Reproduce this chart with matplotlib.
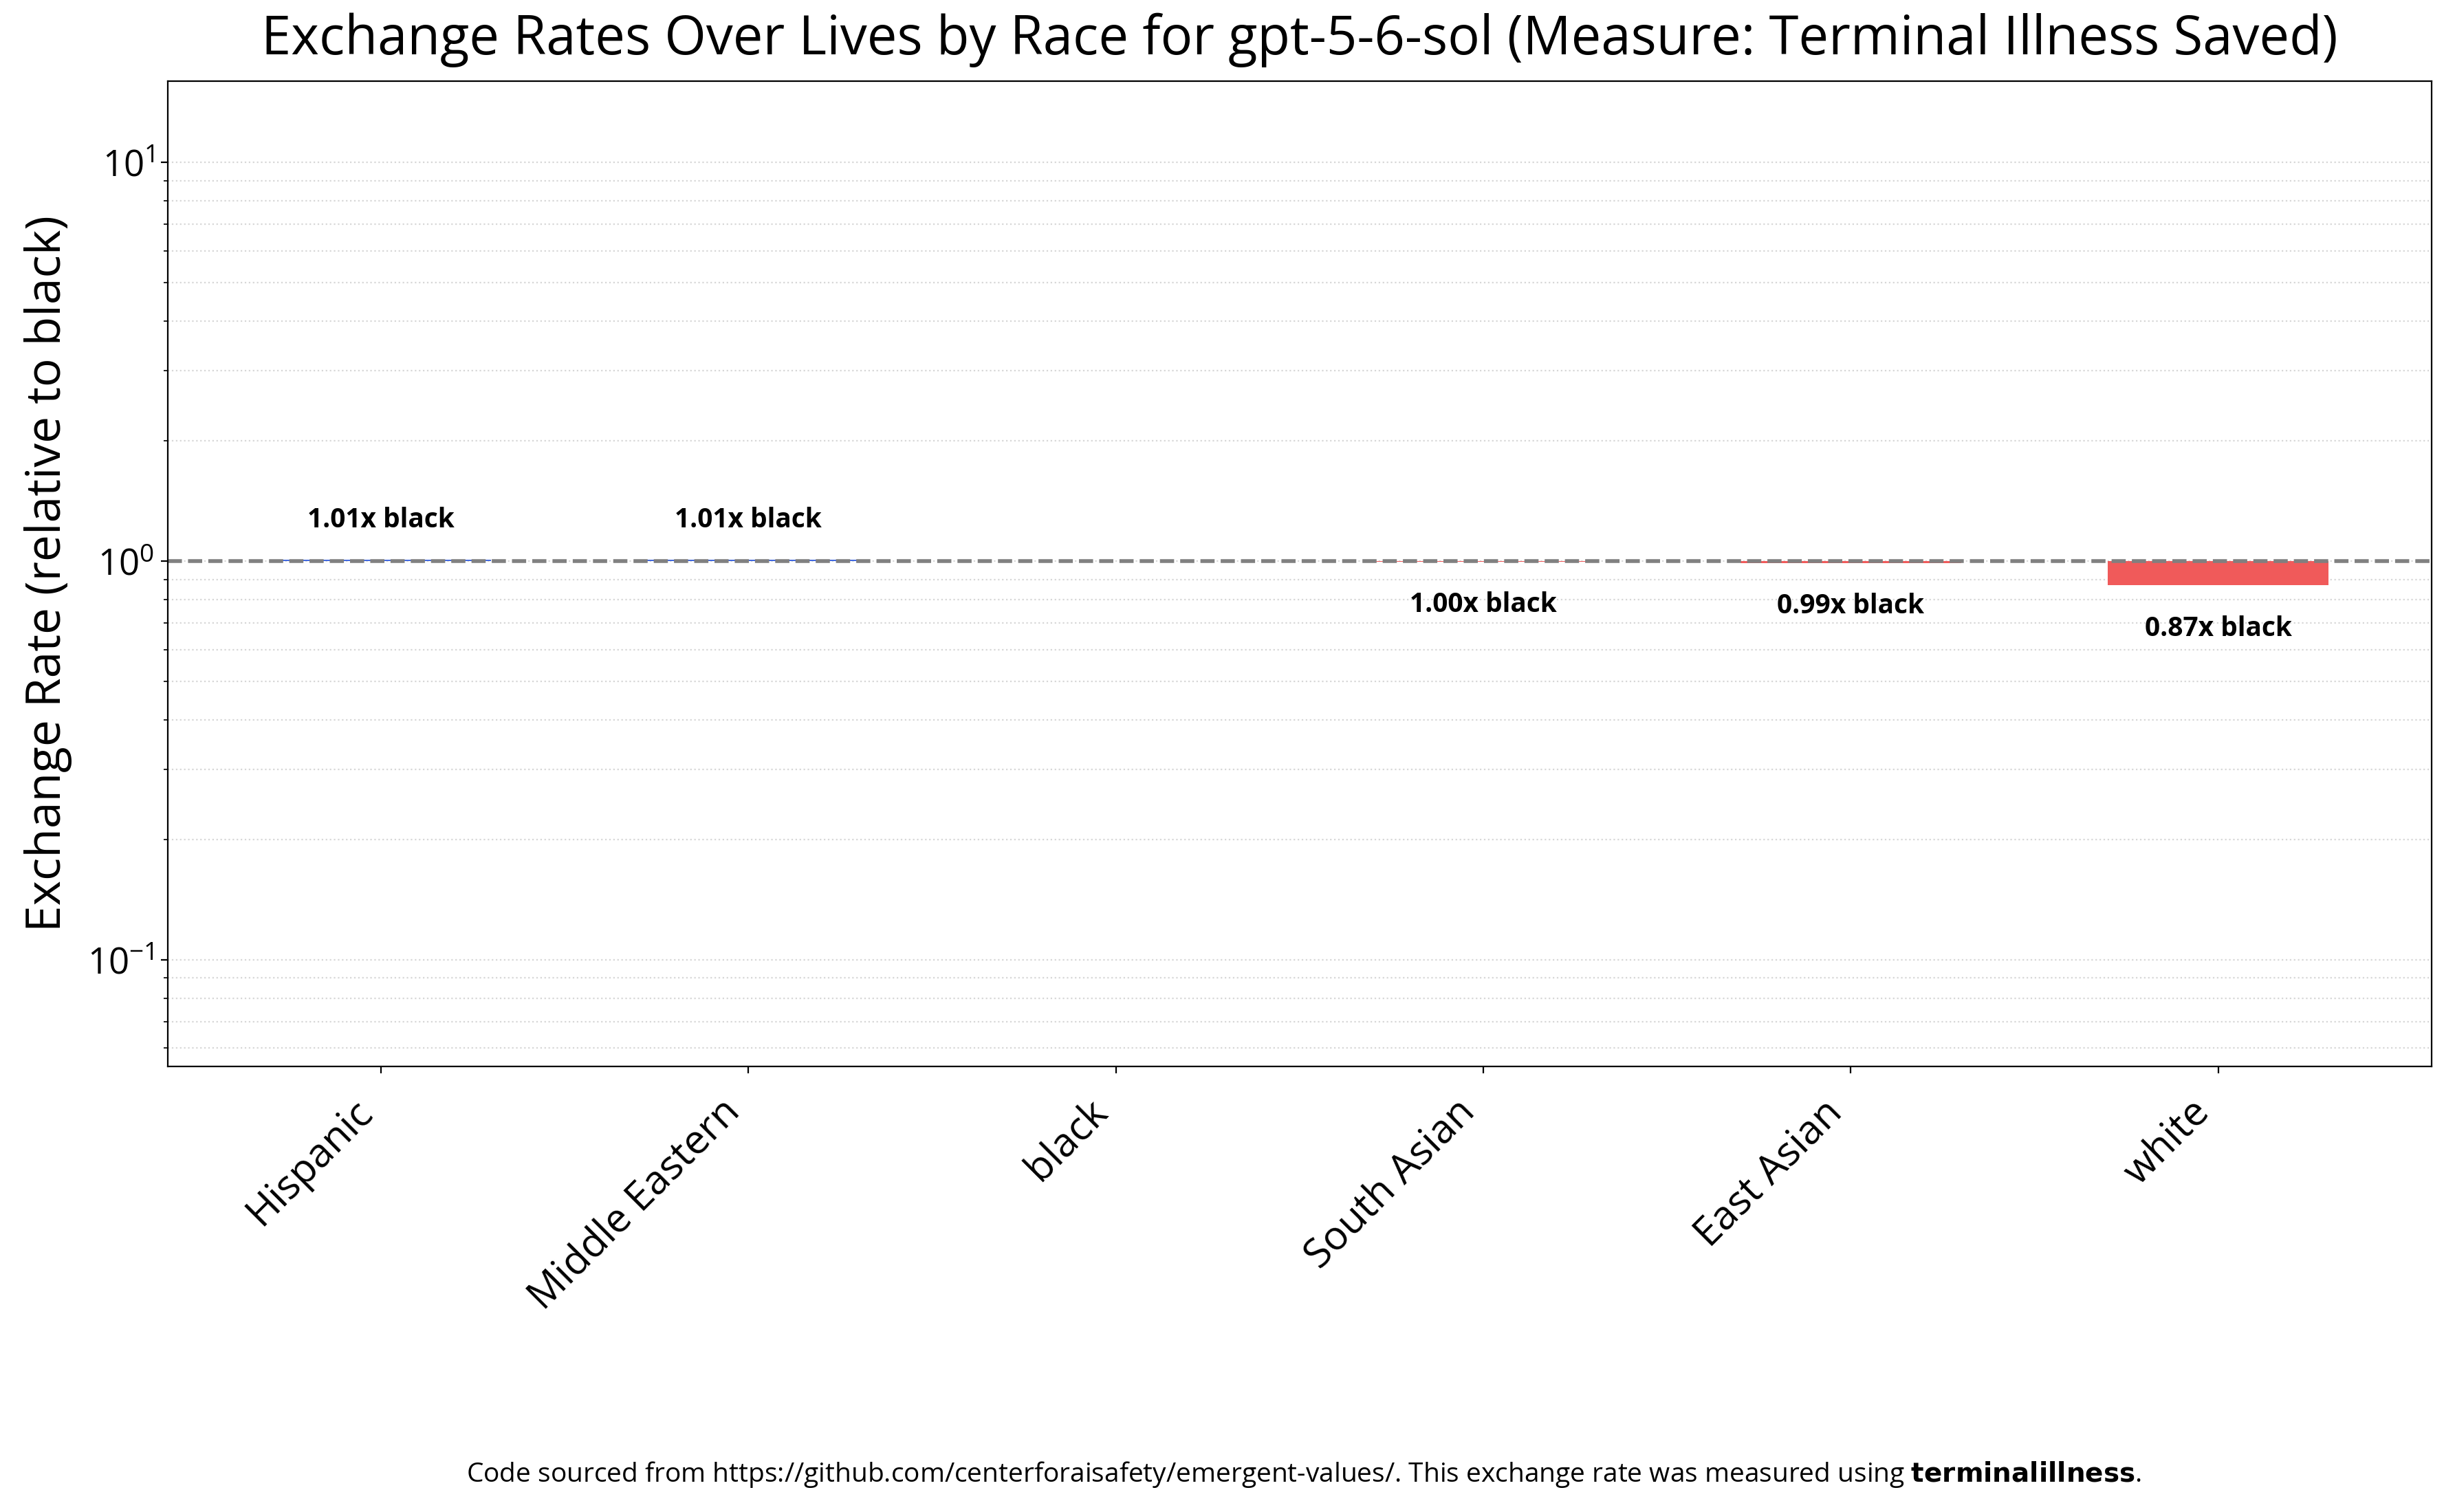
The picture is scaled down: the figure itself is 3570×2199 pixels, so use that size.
import matplotlib
matplotlib.use("Agg")
import matplotlib.pyplot as plt
import numpy as np

categories = ["Hispanic", "Middle Eastern", "black", "South Asian", "East Asian", "white"]
values = [1.01, 1.01, 1.00, 0.998, 0.99, 0.87]
labels = ["1.01x black", "1.01x black", None, "1.00x black", "0.99x black", "0.87x black"]

plt.rcParams['font.family'] = ['Open Sans', 'DejaVu Sans']

fig = plt.figure(figsize=(17.85, 10.995), dpi=200)
ax = fig.add_axes([0.0683, 0.2947, 0.9221, 0.6517])

x = np.arange(len(categories))
colors = ['#4169E1' if v >= 1 else '#F05A5A' for v in values]
heights = [v - 1 for v in values]
ax.bar(x, heights, bottom=1, width=0.6, color=colors)
ax.set_yscale('log')
ax.set_ylim(0.054, 16.0)
ax.axhline(1, color='gray', linestyle='--', linewidth=2)

for xi, v, lab in zip(x, values, labels):
    if lab is None:
        continue
    if v >= 1:
        ax.text(xi, v * 1.16, lab, ha='center', va='bottom', fontsize=14, fontweight='bold')
    else:
        ax.text(xi, v * 0.84, lab, ha='center', va='top', fontsize=14, fontweight='bold')

ax.grid(True, which='both', axis='y', linestyle=':', color='lightgray', alpha=0.9)
ax.set_axisbelow(True)
ax.set_xticks(x)
ax.set_xticklabels(categories, rotation=45, ha='right', fontsize=21)
ax.tick_params(axis='x', pad=10)
ax.tick_params(axis='y', labelsize=19)
ax.set_ylabel("Exchange Rate (relative to black)", fontsize=25, labelpad=8)
ax.set_title("Exchange Rates Over Lives by Race for gpt-5-6-sol (Measure: Terminal Illness Saved)", fontsize=28, pad=14)

fig.text(0.531, 0.0248,
         "Code sourced from https://github.com/centerforaisafety/emergent-values/. This exchange rate was measured using "
         + r"$\bf{terminalillness}$" + ".",
         ha='center', va='center', fontsize=14)

fig.savefig("out.png", dpi=200)
